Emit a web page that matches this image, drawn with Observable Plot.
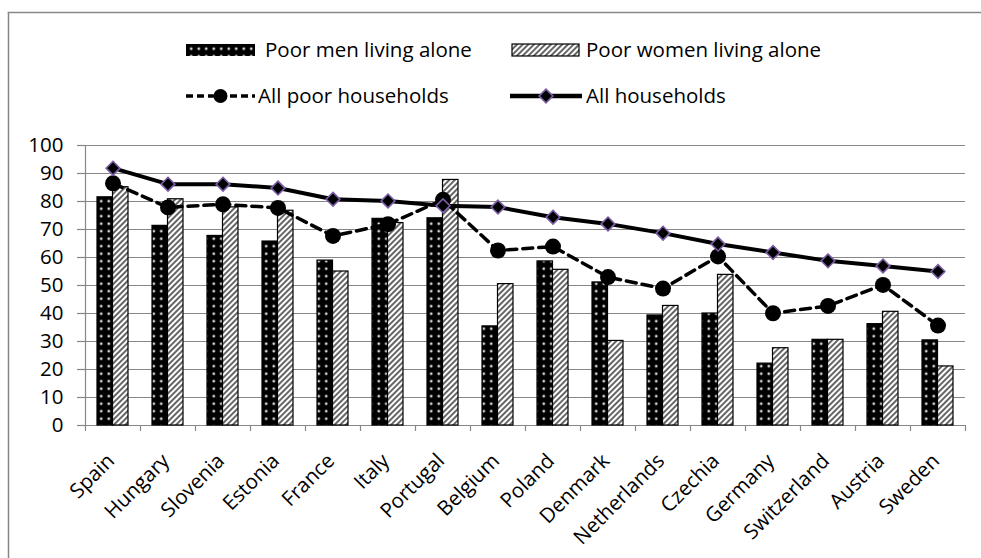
<!DOCTYPE html>
<html>
<head>
<meta charset="utf-8">
<script src="https://cdn.jsdelivr.net/npm/d3@7"></script>
<script src="https://cdn.jsdelivr.net/npm/@observablehq/plot@0.6"></script>
<style>
  html, body { margin: 0; background: #fff; font-family: "Open Sans", sans-serif; overflow: hidden; }
  #page { position: relative; width: 981px; height: 558px; overflow: hidden; background: #fff; }
  #frame { position: absolute; left: 0; top: 0; }
  #legend { position: absolute; left: 0; top: 0; }
  #chart { position: absolute; left: 0; top: 130px; }
  #legend text { font-family: "Open Sans", sans-serif; font-size: 20.5px; fill: #000; }
</style>
</head>
<body>
<div id="page">
  <svg id="frame" width="981" height="558">
    <line x1="7.75" y1="12.5" x2="981" y2="12.5" stroke="#878787" stroke-width="1.5"></line>
    <line x1="8.5" y1="12" x2="8.5" y2="558" stroke="#878787" stroke-width="1.5"></line>
  </svg>
  <svg id="legend" width="981" height="130">
    <defs>
      <pattern id="menDots" patternUnits="userSpaceOnUse" width="7.5" height="7.5">
        <rect width="7.5" height="7.5" fill="#000"></rect>
        <circle cx="3.75" cy="3.75" r="1.4" fill="#d8d8d8"></circle>
      </pattern>
      <pattern id="womenHatch" patternUnits="userSpaceOnUse" width="4" height="4" patternTransform="rotate(45)">
        <rect width="4" height="4" fill="#fff"></rect>
        <line x1="1" y1="0" x2="1" y2="4" stroke="#4a4a4a" stroke-width="1.7"></line>
      </pattern>
    </defs>
  </svg>
  <div id="chart"></div>
</div>
<script>
// Share of people in each group (%), countries ordered by the all-households value
const countries = ["Spain", "Hungary", "Slovenia", "Estonia", "France", "Italy", "Portugal", "Belgium",
  "Poland", "Denmark", "Netherlands", "Czechia", "Germany", "Switzerland", "Austria", "Sweden"];
const poorMen = [81.5, 71.3, 67.7, 65.7, 58.9, 73.8, 74.0, 35.4, 58.6, 51.1, 39.3, 40.0, 22.1, 30.6, 36.2, 30.4];
const poorWomen = [85.1, 80.8, 77.9, 76.7, 55.0, 72.3, 87.7, 50.5, 55.6, 30.2, 42.7, 53.8, 27.6, 30.6, 40.6, 21.1];
const allPoor = [86.5, 77.9, 79.0, 77.7, 67.7, 71.9, 80.6, 62.5, 63.9, 53.0, 48.9, 60.4, 40.1, 42.7, 50.2, 35.7];
const allHouseholds = [91.9, 86.2, 86.2, 84.8, 80.8, 80.2, 78.5, 78.0, 74.4, 72.0, 68.7, 64.8, 61.8, 58.8, 57.0, 55.0];
const yTicks = [0, 10, 20, 30, 40, 50, 60, 70, 80, 90, 100];

const seriesNames = ["Poor men living alone", "Poor women living alone", "All poor households", "All households"];

const rows = countries.map((country, i) => ({
  country,
  men: poorMen[i],
  women: poorWomen[i],
  poor: allPoor[i],
  all: allHouseholds[i]
}));

const W = 981, ML = 85, MR = 16;
const bw = (W - ML - MR) / countries.length; // band width per country
const barW = 15.5;
const grid = "#878787";
const diamondR = 6.2;

const chart = Plot.plot({
  width: W,
  height: 428,
  marginLeft: ML,
  marginRight: MR,
  marginTop: 15,
  marginBottom: 133,
  style: { fontFamily: "Open Sans, sans-serif", fontSize: "20.5px", color: "#000", background: "transparent", overflow: "visible" },
  x: { domain: countries, padding: 0, label: null },
  y: { domain: [0, 100], label: null },
  marks: [
    Plot.gridY(yTicks, { stroke: grid, strokeOpacity: 1, strokeWidth: 1.2 }),
    Plot.axisY(yTicks, { tickSize: 8, tickPadding: 14, stroke: grid, strokeWidth: 1.2, fill: "#000", label: null }),
    // vertical value axis line
    Plot.ruleX([countries[0]], { x: d => d, dx: -bw / 2, y1: 0, y2: 100, stroke: grid, strokeWidth: 1.2 }),
    // category boundary ticks below the baseline
    Plot.ruleX(countries, { x: d => d, dx: -bw / 2, y1: 0, y2: 0, insetBottom: -6, stroke: grid, strokeWidth: 1.2 }),
    Plot.ruleX([countries[countries.length - 1]], { x: d => d, dx: bw / 2, y1: 0, y2: 0, insetBottom: -6, stroke: grid, strokeWidth: 1.2 }),
    Plot.axisX({ tickSize: 0, tickRotate: -45, tickPadding: 32, dx: -2, fill: "#000", label: null }),
    Plot.barY(rows, { x: "country", y: "men", fill: "url(#menDots)", stroke: "#000", strokeWidth: 1.2,
      insetLeft: bw / 2 - barW, insetRight: bw / 2, title: d => `${seriesNames[0]}: ${d.men}` }),
    Plot.barY(rows, { x: "country", y: "women", fill: "url(#womenHatch)", stroke: "#000", strokeWidth: 1.2,
      insetLeft: bw / 2, insetRight: bw / 2 - barW, title: d => `${seriesNames[1]}: ${d.women}` }),
    Plot.line(rows, { x: "country", y: "poor", stroke: "#000", strokeWidth: 3.5, strokeDasharray: "10,6" }),
    Plot.dot(rows, { x: "country", y: "poor", r: 8, fill: "#000", stroke: "none" }),
    Plot.line(rows, { x: "country", y: "all", stroke: "#000", strokeWidth: 4 }),
    Plot.dot(rows, { x: "country", y: "all", symbol: "diamond2", r: diamondR, fill: "#000", stroke: "#7b5ea7", strokeWidth: 1.6 })
  ]
});
document.getElementById("chart").appendChild(chart);

// Legend, drawn in its own SVG above the chart
const leg = d3.select("#legend");
const items = [
  { name: seriesNames[0], kind: "men", sx: 186, sw: 69, tx: 265, y: 50 },
  { name: seriesNames[1], kind: "women", sx: 512, sw: 67, tx: 586, y: 50 },
  { name: seriesNames[2], kind: "poor", sx: 186, sw: 69, tx: 258, y: 96 },
  { name: seriesNames[3], kind: "all", sx: 510, sw: 72, tx: 586, y: 96 }
];
for (const it of items) {
  const g = leg.append("g");
  if (it.kind === "men") {
    g.append("rect").attr("x", it.sx).attr("y", it.y - 6).attr("width", it.sw).attr("height", 12).attr("fill", "url(#menDots)");
  } else if (it.kind === "women") {
    g.append("rect").attr("x", it.sx).attr("y", it.y - 6).attr("width", it.sw).attr("height", 12)
      .attr("fill", "url(#womenHatch)").attr("stroke", "#000").attr("stroke-width", 1.2);
  } else if (it.kind === "poor") {
    g.append("line").attr("x1", it.sx).attr("x2", it.sx + it.sw).attr("y1", it.y).attr("y2", it.y)
      .attr("stroke", "#000").attr("stroke-width", 3.5).attr("stroke-dasharray", "7,4");
    g.append("circle").attr("cx", it.sx + it.sw / 2).attr("cy", it.y).attr("r", 7).attr("fill", "#000");
  } else {
    g.append("line").attr("x1", it.sx).attr("x2", it.sx + it.sw).attr("y1", it.y).attr("y2", it.y)
      .attr("stroke", "#000").attr("stroke-width", 4.5);
    g.append("path").attr("d", d3.symbol(d3.symbolDiamond2, Math.PI * diamondR * diamondR)())
      .attr("transform", `translate(${it.sx + it.sw / 2},${it.y})`)
      .attr("fill", "#000").attr("stroke", "#7b5ea7").attr("stroke-width", 1.6);
  }
  g.append("text").attr("x", it.tx).attr("y", it.y).attr("dy", "0.35em").text(it.name);
}
</script>
</body>
</html>
